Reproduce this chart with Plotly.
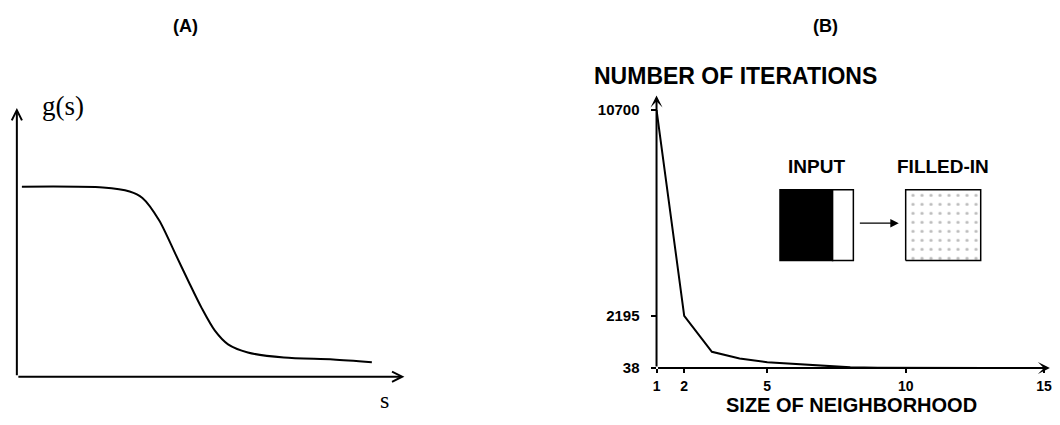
import plotly.graph_objects as go

# ---------------- data ----------------
# Panel A: sigmoid-like g(s) curve (arbitrary units)
s_vals = [0.13, 2.22, 2.91, 3.24, 3.67, 4.09, 4.43, 4.77, 5.11, 5.45, 5.96, 6.89, 8.16, 9.16]
g_vals = [7.07, 7.04, 6.89, 6.65, 5.82, 4.57, 3.54, 2.55, 1.71, 1.20, 0.90, 0.71, 0.64, 0.54]

# Panel B: number of iterations vs size of neighborhood
neigh = [1, 2, 3, 4, 5, 6, 7, 8, 9, 10, 11, 12, 13]
iters = [10700, 2195, 711, 434, 276, 196, 129, 66, 50, 44, 41, 39, 38]
xticks_b = [1, 2, 5, 10, 15]
yticks_b = [38, 2195, 10700]

W, H = 1060, 425
SANS = "Liberation Sans, Arial, sans-serif"
SERIF = "Liberation Serif, Times New Roman, serif"

def px(x):
    return x / W

def py(y):
    return 1 - y / H

fig = go.Figure()

# Panel A curve
fig.add_trace(go.Scatter(x=s_vals, y=g_vals, mode="lines",
                         line=dict(color="black", width=2, shape="spline", smoothing=0.8),
                         xaxis="x", yaxis="y", showlegend=False, hoverinfo="skip", cliponaxis=False))

# Panel B curve
fig.add_trace(go.Scatter(x=neigh, y=iters, mode="lines", line=dict(color="black", width=2),
                         xaxis="x2", yaxis="y2", showlegend=False, hoverinfo="skip", cliponaxis=False))

# Inset geometry (in panel-B data units)
IN_X0, IN_XB, IN_X1 = 5.46, 7.36, 8.11
FI_X0, FI_X1 = 10.0, 12.71
BOX_Y0, BOX_Y1 = 4473, 7404
ARROW_Y = 6018
LABEL_Y = 8362

fig.add_trace(go.Scatter(x=[FI_X0, FI_X1, FI_X1, FI_X0, FI_X0], y=[BOX_Y0, BOX_Y0, BOX_Y1, BOX_Y1, BOX_Y0],
                         mode="lines", fill="toself", line=dict(color="black", width=1.5),
                         fillcolor="white",
                         fillpattern=dict(shape=".", fgcolor="#777777", bgcolor="white", size=9, solidity=0.1),
                         xaxis="x2", yaxis="y2", showlegend=False, hoverinfo="skip"))

shapes = [
    dict(type="rect", xref="x2", yref="y2", x0=IN_X0, x1=IN_XB, y0=BOX_Y0, y1=BOX_Y1,
         fillcolor="black", line=dict(color="black", width=1.5)),
    dict(type="rect", xref="x2", yref="y2", x0=IN_XB, x1=IN_X1, y0=BOX_Y0, y1=BOX_Y1,
         fillcolor="white", line=dict(color="black", width=1.5)),
]

def label(text, x, y, size, xanchor="center", family=SANS, xref="paper", yref="paper"):
    return dict(text=text, x=x, y=y, xref=xref, yref=yref, xanchor=xanchor, yanchor="middle",
                showarrow=False, font=dict(family=family, size=size, color="black"))

annotations = [
    # panel labels
    label("<b>(A)</b>", px(184), py(18), 18),
    label("<b>(B)</b>", px(831), py(18), 18),
    # panel A axes arrows
    dict(x=0, y=10, ax=0, ay=0, xref="x", yref="y", axref="x", ayref="y", text="", showarrow=True,
         arrowhead=5, arrowsize=1, arrowwidth=2, arrowcolor="black"),
    dict(x=10, y=0, ax=0, ay=0, xref="x", yref="y", axref="x", ayref="y", text="", showarrow=True,
         arrowhead=5, arrowsize=1, arrowwidth=2, arrowcolor="black"),
    label("g(s)", px(36), py(101), 27, xanchor="left", family=SERIF),
    label("s", px(385), py(407), 24, family=SERIF),
    # panel B axes arrows
    dict(x=1, y=11295, ax=1, ay=38, xref="x2", yref="y2", axref="x2", ayref="y2", text="", showarrow=True,
         arrowhead=3, arrowsize=1, arrowwidth=2, arrowcolor="black"),
    dict(x=15.21, y=38, ax=1, ay=38, xref="x2", yref="y2", axref="x2", ayref="y2", text="", showarrow=True,
         arrowhead=3, arrowsize=1, arrowwidth=2, arrowcolor="black"),
    label("<b>NUMBER OF ITERATIONS</b>", px(595), py(70), 23, xanchor="left"),
    label("<b>SIZE OF NEIGHBORHOOD</b>", px(857), py(413), 20),
    # inset
    label("<b>INPUT</b>", (IN_X0 + IN_X1) / 2, LABEL_Y, 19, xref="x2", yref="y2"),
    label("<b>FILLED-IN</b>", (FI_X0 + FI_X1) / 2, LABEL_Y, 19, xref="x2", yref="y2"),
    dict(x=9.75, y=ARROW_Y, ax=8.29, ay=ARROW_Y, xref="x2", yref="y2", axref="x2", ayref="y2", text="",
         showarrow=True, arrowhead=2, arrowsize=1.3, arrowwidth=1.3, arrowcolor="black"),
]

tickfont = dict(family=SANS, size=15, color="black")

fig.update_layout(
    width=W, height=H,
    margin=dict(l=0, r=0, t=0, b=0),
    paper_bgcolor="white", plot_bgcolor="white",
    showlegend=False,
    xaxis=dict(domain=[px(13), px(405)], range=[0, 10], visible=False),
    yaxis=dict(domain=[py(383), py(103)], range=[0, 10], visible=False),
    xaxis2=dict(domain=[px(660), px(1052)], range=[1, 15], anchor="y2", tickvals=xticks_b,
                ticktext=["<b>%d</b>" % v for v in xticks_b], ticks="outside", ticklen=4, tickwidth=1.5,
                tickcolor="black", showline=False, showgrid=False, zeroline=False,
                ticklabelstandoff=1, ticklabeloverflow="allow", tickfont=dict(family=SANS, size=14, color="black")),
    yaxis2=dict(domain=[py(374), py(105)], range=[38, 10700], anchor="x2", tickvals=yticks_b,
                ticktext=["<b>%d</b>" % v for v in yticks_b], ticks="outside", ticklen=5, tickwidth=1.5,
                tickcolor="black", showline=False, showgrid=False, zeroline=False,
                ticklabelstandoff=8, tickfont=tickfont),
    shapes=shapes,
    annotations=annotations,
)

fig.write_html("out.html")
